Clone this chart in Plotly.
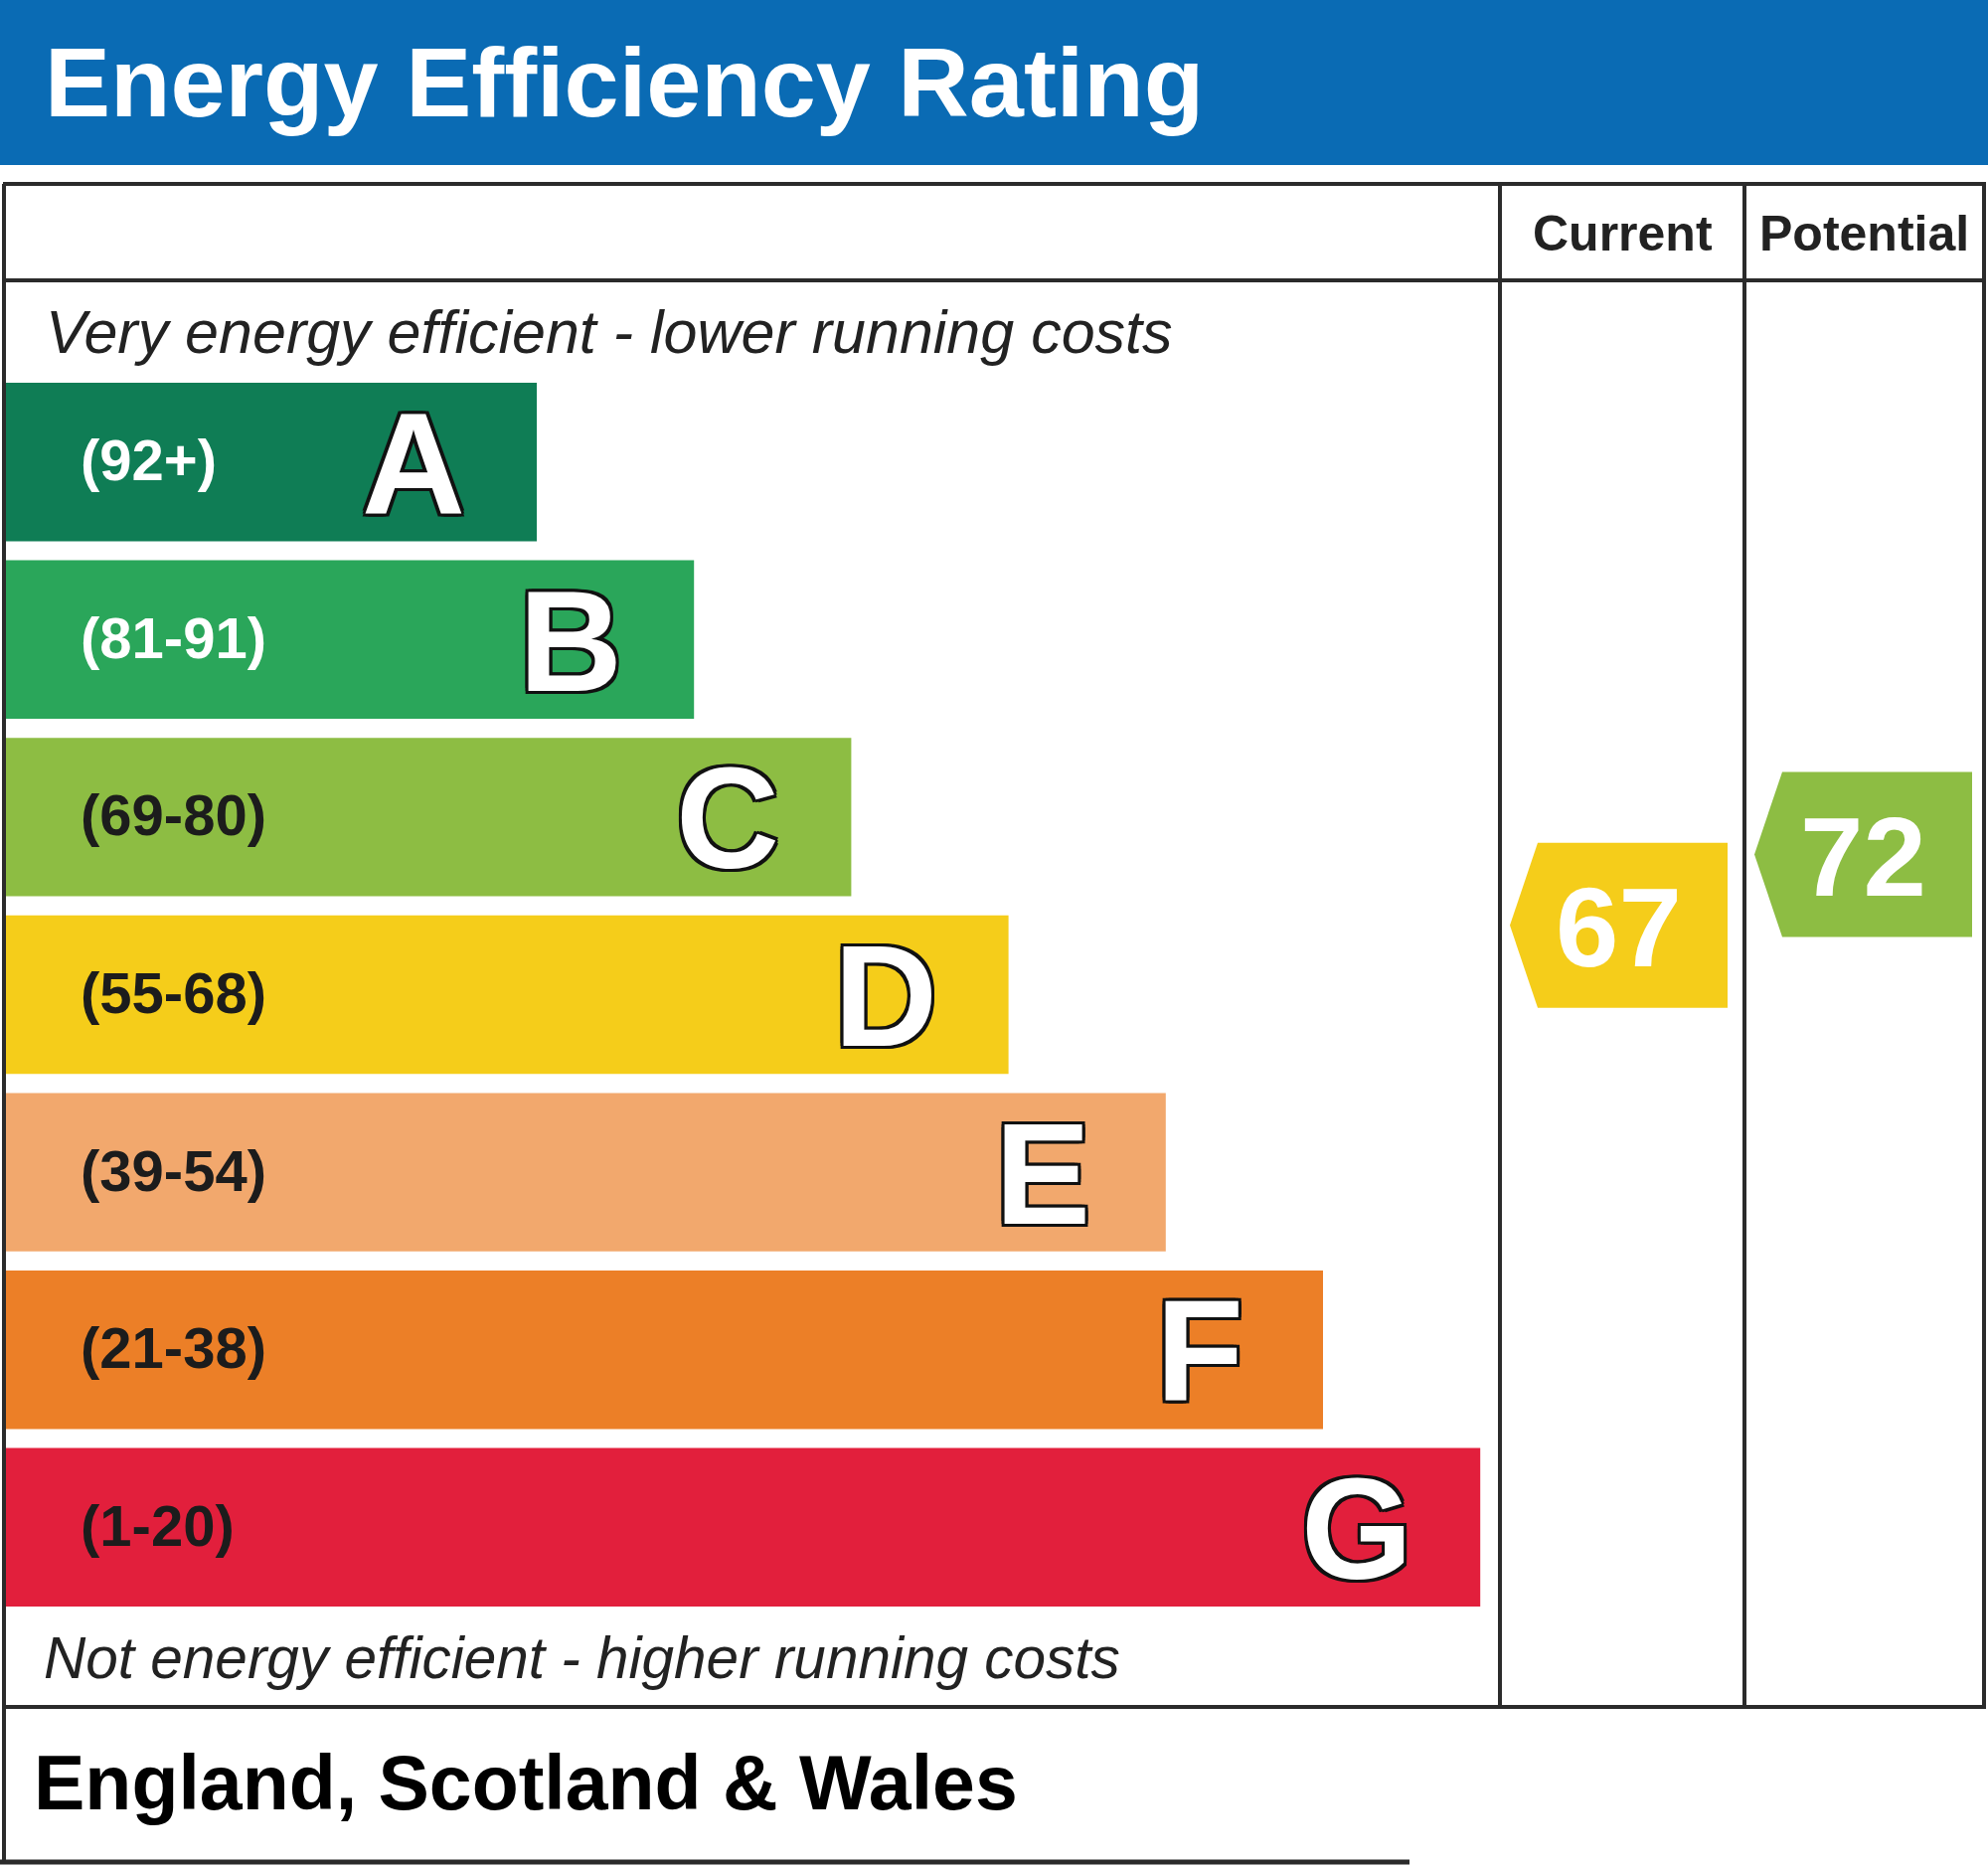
import plotly.graph_objects as go

# --- data -------------------------------------------------------------
bands = ["A", "B", "C", "D", "E", "F", "G"]
band_ranges = ["(92+)", "(81-91)", "(69-80)", "(55-68)", "(39-54)", "(21-38)", "(1-20)"]
band_min = [92, 81, 69, 55, 39, 21, 1]
band_colors = ["#0f7d55", "#2aa65a", "#8dbd43", "#f5cd1a", "#f2a86d", "#ec7f27", "#e21f3c"]
range_text_colors = ["#ffffff", "#ffffff", "#1c1c1c", "#1c1c1c", "#1c1c1c", "#1c1c1c", "#1c1c1c"]
column_labels = ["Current", "Potential"]
ratings = [67, 72]

title = "Energy Efficiency Rating"
top_note = "Very energy efficient - lower running costs"
bottom_note = "Not energy efficient - higher running costs"
region = "England, Scotland & Wales"

# --- geometry (pixel space of the canvas) -----------------------------
W, H = 2000, 1878
FONT = "Liberation Sans"
LINE = "#2b2b2b"
HEADER_BLUE = "#0a6bb4"

BAR_TOP = 385
PITCH = 178.6
BAR_H = 159.4
BAR_LEFT = 6
BAR_MIN = 534
BAR_STEP = 158.2

TABLE_TOP = 185
HEAD_ROW = 282
TABLE_BOTTOM = 1717
FOOT_BOTTOM = 1873
COL_X = [1509, 1755, 1996]

centers = [BAR_TOP + BAR_H / 2 + PITCH * i for i in range(len(bands))]
lengths = [BAR_MIN + BAR_STEP * i for i in range(len(bands))]


def rating_y(v):
    return centers[0] + PITCH * ((100 - v) * 0.08 - 0.03)


def rating_color(v):
    for lo, c in zip(band_min, band_colors):
        if v >= lo:
            return c
    return band_colors[-1]


def label(x, y, text, size, color, xanchor="left", **font):
    return dict(
        x=x, y=y, text=text, xanchor=xanchor, yanchor="middle", showarrow=False,
        font=dict(family=FONT, size=size, color=color, **font),
    )


fig = go.Figure()

fig.add_trace(
    go.Bar(
        orientation="h",
        y=centers,
        x=lengths,
        base=BAR_LEFT,
        width=BAR_H,
        marker=dict(color=band_colors, line=dict(width=0)),
        hoverinfo="skip",
    )
)

annotations = []
outline = ", ".join(
    f"{dx}px {dy}px 0 #111"
    for dx, dy in [(-3, -3), (3, -3), (-3, 3), (3, 3), (0, 3), (3, 0), (-3, 0), (0, -3)]
)

for i, band in enumerate(bands):
    annotations.append(label(79, centers[i] - 2, band_ranges[i], 58, range_text_colors[i],
                             weight="bold"))
    annotations.append(label(BAR_LEFT + lengths[i] - 124, centers[i] + 2, band, 144, "#ffffff",
                             xanchor="center", weight="bold", shadow=outline))

# rating arrows
ARROW_W = 219
TIP = 28
HALF = 83
for col, v in enumerate(ratings):
    tip = COL_X[col] + 10
    yc = rating_y(v)
    xs = [tip, tip + TIP, tip + ARROW_W, tip + ARROW_W, tip + TIP, tip]
    ys = [yc, yc - HALF, yc - HALF, yc + HALF, yc + HALF, yc]
    fig.add_trace(
        go.Scatter(
            x=xs, y=ys, mode="lines", fill="toself",
            fillcolor=rating_color(v), line=dict(width=0),
            hoverinfo="skip",
        )
    )
    annotations.append(label(tip + ARROW_W / 2, yc + 2, str(v), 114, "#ffffff",
                             xanchor="center", weight="bold"))

for col, text in enumerate(column_labels):
    annotations.append(label((COL_X[col] + COL_X[col + 1]) / 2, (TABLE_TOP + HEAD_ROW) / 2 + 1,
                             text, 50, "#222222", xanchor="center", weight="bold"))

annotations += [
    label(43, 82, title, 99, "#ffffff", weight="bold"),
    label(44, 334, top_note, 61, "#222222", style="italic"),
    label(42, 1667, bottom_note, 58.5, "#222222", style="italic"),
    label(32, 1793, region, 77, "#000000", weight="bold"),
]

shapes = [
    dict(type="rect", x0=0, x1=W, y0=0, y1=166, fillcolor=HEADER_BLUE,
         line=dict(width=0), layer="below"),
]


def hline(y, x0, x1, w=4):
    return dict(type="line", x0=x0, x1=x1, y0=y, y1=y, line=dict(color=LINE, width=w))


def vline(x, y0, y1, w=4):
    return dict(type="line", x0=x, x1=x, y0=y0, y1=y1, line=dict(color=LINE, width=w))


shapes += [
    hline(TABLE_TOP, 3, 1998),
    hline(HEAD_ROW, 3, 1998),
    hline(TABLE_BOTTOM, 3, 1998),
    hline(FOOT_BOTTOM, 0, 1418, 5),
    vline(4, TABLE_TOP, FOOT_BOTTOM + 2),
    vline(COL_X[0], TABLE_TOP, TABLE_BOTTOM),
    vline(COL_X[1], TABLE_TOP, TABLE_BOTTOM),
    vline(COL_X[2], TABLE_TOP, TABLE_BOTTOM),
]

fig.update_layout(
    width=W,
    height=H,
    margin=dict(l=0, r=0, t=0, b=0),
    paper_bgcolor="#ffffff",
    plot_bgcolor="#ffffff",
    showlegend=False,
    hovermode=False,
    xaxis=dict(range=[0, W], visible=False, fixedrange=True),
    yaxis=dict(range=[H, 0], visible=False, fixedrange=True),
    annotations=annotations,
    shapes=shapes,
)

fig.write_html(
    "out.html",
    config={"displayModeBar": False},
    post_script="document.body.style.margin='0px';",
)
